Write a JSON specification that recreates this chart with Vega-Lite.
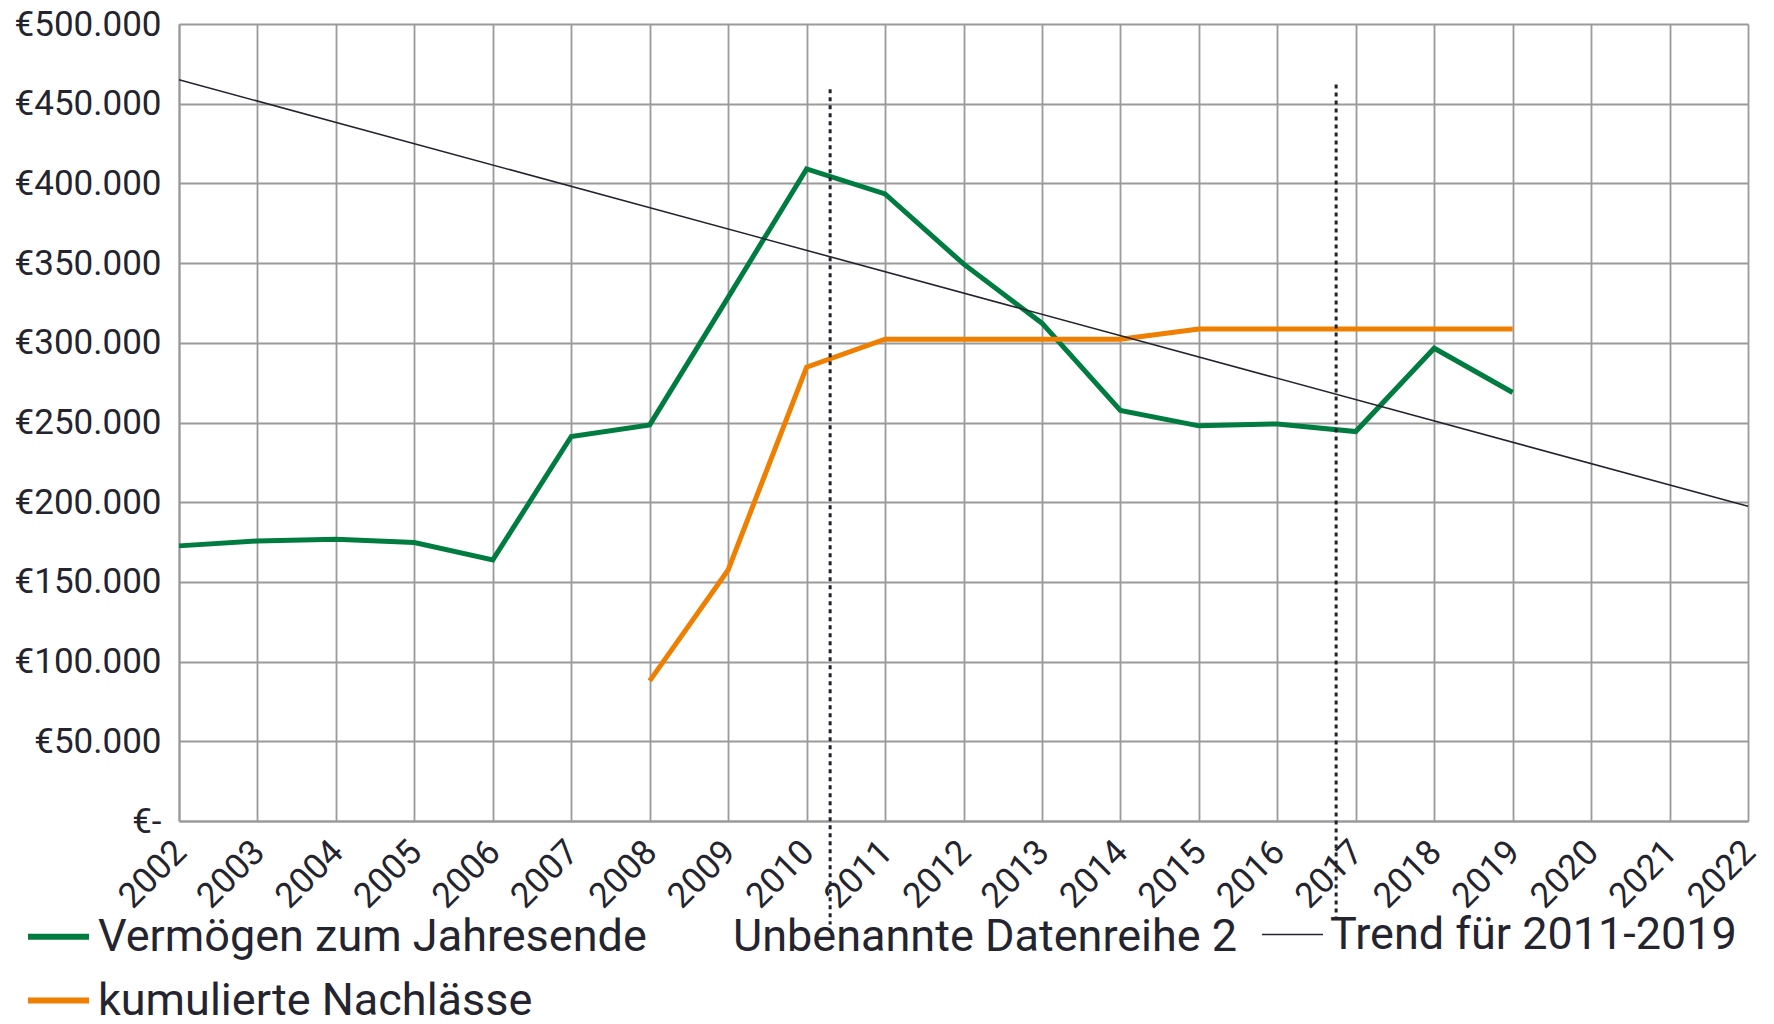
{
  "$schema": "https://vega.github.io/schema/vega-lite/v6.json",
  "width": 1569,
  "height": 797,
  "autosize": {"type": "none"},
  "padding": {"left": 179, "top": 24, "right": 26, "bottom": 203},
  "background": "white",
  "config": {
    "view": {"stroke": null},
    "font": "Roboto",
    "axis": {
      "gridColor": "#9a9a9a",
      "gridWidth": 1.8,
      "gridOpacity": 1,
      "domainColor": "#9a9a9a",
      "domainWidth": 2,
      "ticks": false,
      "labelFont": "Roboto",
      "labelFontSize": 35,
      "labelColor": "#24242f",
      "labelOverlap": false,
      "title": null
    }
  },
  "resolve": {"scale": {"color": "independent"}, "legend": {"color": "independent"}},
  "datasets": {
    "series": [
      {"year": 2002, "series": "Vermögen zum Jahresende", "value": 172600},
      {"year": 2003, "series": "Vermögen zum Jahresende", "value": 175700},
      {"year": 2004, "series": "Vermögen zum Jahresende", "value": 176800},
      {"year": 2005, "series": "Vermögen zum Jahresende", "value": 174700},
      {"year": 2006, "series": "Vermögen zum Jahresende", "value": 163800},
      {"year": 2007, "series": "Vermögen zum Jahresende", "value": 241200},
      {"year": 2008, "series": "Vermögen zum Jahresende", "value": 248500},
      {"year": 2009, "series": "Vermögen zum Jahresende", "value": 328500},
      {"year": 2010, "series": "Vermögen zum Jahresende", "value": 409100},
      {"year": 2011, "series": "Vermögen zum Jahresende", "value": 393400},
      {"year": 2012, "series": "Vermögen zum Jahresende", "value": 349500},
      {"year": 2013, "series": "Vermögen zum Jahresende", "value": 312300},
      {"year": 2014, "series": "Vermögen zum Jahresende", "value": 257500},
      {"year": 2015, "series": "Vermögen zum Jahresende", "value": 247900},
      {"year": 2016, "series": "Vermögen zum Jahresende", "value": 249100},
      {"year": 2017, "series": "Vermögen zum Jahresende", "value": 244300},
      {"year": 2018, "series": "Vermögen zum Jahresende", "value": 296600},
      {"year": 2019, "series": "Vermögen zum Jahresende", "value": 268800},
      {"year": 2008, "series": "kumulierte Nachlässe", "value": 87900},
      {"year": 2009, "series": "kumulierte Nachlässe", "value": 157500},
      {"year": 2010, "series": "kumulierte Nachlässe", "value": 284700},
      {"year": 2011, "series": "kumulierte Nachlässe", "value": 302300},
      {"year": 2012, "series": "kumulierte Nachlässe", "value": 302300},
      {"year": 2013, "series": "kumulierte Nachlässe", "value": 302300},
      {"year": 2014, "series": "kumulierte Nachlässe", "value": 302300},
      {"year": 2015, "series": "kumulierte Nachlässe", "value": 308700},
      {"year": 2016, "series": "kumulierte Nachlässe", "value": 308700},
      {"year": 2017, "series": "kumulierte Nachlässe", "value": 308700},
      {"year": 2018, "series": "kumulierte Nachlässe", "value": 308700},
      {"year": 2019, "series": "kumulierte Nachlässe", "value": 308700}
    ],
    "trend": [
      {"year": 2002, "series": "Trend für 2011-2019", "value": 465000},
      {"year": 2022, "series": "Trend für 2011-2019", "value": 197500}
    ],
    "markers": [
      {"x": 2010.3, "top": 459000, "bottom": -65000},
      {"x": 2016.75, "top": 462000, "bottom": -61000}
    ]
  },
  "encoding": {
    "x": {
      "field": "year",
      "type": "quantitative",
      "scale": {"domain": [2002, 2022], "nice": false, "zero": false},
      "axis": {
        "values": [2002,2003,2004,2005,2006,2007,2008,2009,2010,2011,2012,2013,2014,2015,2016,2017,2018,2019,2020,2021,2022],
        "format": "d",
        "labelAngle": -45,
        "labelPadding": 13,
        "labelOffset": -11,
        "grid": true
      }
    },
    "y": {
      "field": "value",
      "type": "quantitative",
      "scale": {"domain": [0, 500000], "nice": false},
      "axis": {
        "values": [0,50000,100000,150000,200000,250000,300000,350000,400000,450000,500000],
        "labelExpr": "datum.value === 0 ? '€-' : '€' + format(datum.value / 1000, 'd') + '.000'",
        "labelPadding": 18,
        "grid": true
      }
    }
  },
  "layer": [
    {
      "data": {"name": "series"},
      "mark": {"type": "line", "strokeWidth": 5, "strokeJoin": "miter"},
      "encoding": {
        "color": {
          "field": "series",
          "type": "nominal",
          "scale": {
            "domain": ["Vermögen zum Jahresende", "Unbenannte Datenreihe 2", "kumulierte Nachlässe"],
            "range": ["#007c40", "transparent", "#ef7f00"]
          },
          "legend": {
            "title": null,
            "orient": "none",
            "legendX": -154,
            "legendY": 879,
            "direction": "horizontal",
            "columns": 2,
            "symbolType": "stroke",
            "symbolSize": 3721,
            "symbolStrokeWidth": 6,
            "labelFont": "Roboto",
            "labelFontSize": 45,
            "labelColor": "#24242f",
            "labelOffset": 6,
            "labelLimit": 1000,
            "columnPadding": 4,
            "rowPadding": 7,
            "padding": 0
          }
        }
      }
    },
    {
      "data": {"name": "trend"},
      "mark": {"type": "line", "strokeWidth": 1.6},
      "encoding": {
        "color": {
          "field": "series",
          "type": "nominal",
          "scale": {"domain": ["Trend für 2011-2019"], "range": ["#24242f"]},
          "legend": {
            "title": null,
            "orient": "none",
            "legendX": 1082,
            "legendY": 879,
            "direction": "horizontal",
            "symbolType": "stroke",
            "symbolSize": 3721,
            "symbolStrokeWidth": 1.5,
            "labelFont": "Roboto",
            "labelFontSize": 45,
            "labelColor": "#24242f",
            "labelOffset": 6,
            "labelLimit": 1000,
            "padding": 0
          }
        }
      }
    },
    {
      "data": {"name": "markers"},
      "mark": {"type": "rule", "color": "#24242f", "strokeWidth": 3, "strokeDash": [4, 4]},
      "encoding": {
        "x": {"field": "x", "type": "quantitative"},
        "y": {"field": "top", "type": "quantitative"},
        "y2": {"field": "bottom"}
      }
    }
  ]
}
